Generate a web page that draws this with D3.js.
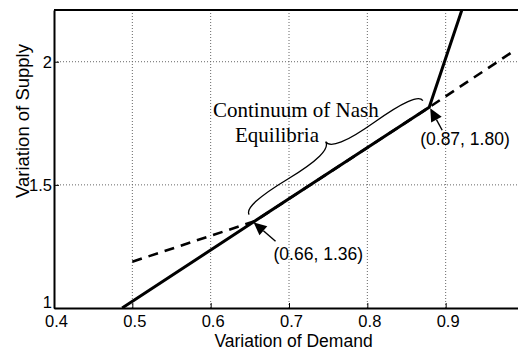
<!DOCTYPE html>
<html><head><meta charset="utf-8">
<script src="https://cdn.jsdelivr.net/npm/d3@7"></script>
<style>
html,body{margin:0;padding:0;background:#fff;overflow:hidden;}
svg{display:block;}
</style></head>
<body>
<svg id="chart" width="518" height="350"></svg>
<script>
// ---- data ----
const xTicks = [0.4, 0.5, 0.6, 0.7, 0.8, 0.9];
const yTicks = [1, 1.5, 2];
const xTickLabels = ["0.4", "0.5", "0.6", "0.7", "0.8", "0.9"];
const yTickLabels = ["1", "1.5", "2"];
const solidX = [0.487, 0.656, 0.879, 0.921];
const solidY = [1.0, 1.352, 1.815, 2.213];
const dashedX = [0.5, 0.656, 0.879, 0.99];
const dashedY = [1.188, 1.352, 1.815, 2.05];
const pointLabels = ["(0.66, 1.36)", "(0.87, 1.80)"];
const pointX = [0.656, 0.879];
const pointY = [1.352, 1.815];
const braceText = ["Continuum of Nash", "Equilibria"];
const xTitle = "Variation of Demand";
const yTitle = "Variation of Supply";

const svg = d3.select("#chart");
const x = d3.scaleLinear().domain([0.4, 1.0]).range([54, 524]);
const y = d3.scaleLinear().domain([1, 2.21]).range([308, 10]);

// grid
const grid = svg.append("g");
xTicks.slice(1).forEach(v => grid.append("line")
  .attr("x1", x(v)).attr("x2", x(v)).attr("y1", y(1)).attr("y2", y(2.21))
  .attr("stroke", "#666").attr("stroke-width", 1).attr("stroke-dasharray", "1,2"));
yTicks.slice(1).forEach(v => grid.append("line")
  .attr("x1", x(0.4)).attr("x2", 518).attr("y1", y(v)).attr("y2", y(v))
  .attr("stroke", "#666").attr("stroke-width", 1).attr("stroke-dasharray", "1,2"));

// axes
const xAxis = d3.axisBottom(x).tickValues(xTicks)
  .tickFormat((d, i) => xTickLabels[i]).tickSizeInner(-5).tickSizeOuter(0).tickPadding(7);
const gx = svg.append("g").attr("transform", `translate(0,${y(1)})`).call(xAxis);
gx.select(".domain").attr("stroke", "#000").attr("stroke-width", 2);
gx.selectAll("text").attr("font-family", "Liberation Sans, Arial, sans-serif")
  .attr("font-size", 16.5).attr("fill", "#000").attr("dx", 2);

const yAxis = d3.axisLeft(y).tickValues(yTicks)
  .tickFormat((d, i) => yTickLabels[i]).tickSizeInner(-5).tickSizeOuter(0).tickPadding(2);
const gy = svg.append("g").attr("transform", `translate(${x(0.4)},0)`).call(yAxis);
gy.select(".domain").attr("stroke", "#000").attr("stroke-width", 2);
gy.selectAll("text").attr("font-family", "Liberation Sans, Arial, sans-serif")
  .attr("font-size", 16.5).attr("fill", "#000");
gy.selectAll(".tick").filter(d => d === 1).select("text").attr("dy", "-0.02em");

// top border
svg.append("line").attr("x1", x(0.4)).attr("x2", 518).attr("y1", y(2.21)).attr("y2", y(2.21))
  .attr("stroke", "#000").attr("stroke-width", 2);

// clip
svg.append("clipPath").attr("id", "clip").append("rect")
  .attr("x", x(0.4)).attr("y", y(2.21)).attr("width", 518 - x(0.4)).attr("height", y(1) - y(2.21));

const line = d3.line().x(d => x(d[0])).y(d => y(d[1]));
const solid = solidX.map((v, i) => [v, solidY[i]]);
const dashed = dashedX.map((v, i) => [v, dashedY[i]]);

const plot = svg.append("g").attr("clip-path", "url(#clip)");
plot.append("path").datum(dashed).attr("d", line).attr("fill", "none")
  .attr("stroke", "#000").attr("stroke-width", 2.6).attr("stroke-dasharray", "10,7");
plot.append("path").datum(solid).attr("d", line).attr("fill", "none")
  .attr("stroke", "#000").attr("stroke-width", 3).attr("stroke-linejoin", "round");

// brace
function brace(x1, y1, x2, y2, w, q) {
  let dx = x1 - x2, dy = y1 - y2;
  const len = Math.sqrt(dx * dx + dy * dy); dx /= len; dy /= len;
  const qx1 = x1 + q * w * dy, qy1 = y1 - q * w * dx;
  const qx2 = (x1 - .25 * len * dx) + (1 - q) * w * dy, qy2 = (y1 - .25 * len * dy) - (1 - q) * w * dx;
  const tx1 = (x1 - .5 * len * dx) + w * dy, ty1 = (y1 - .5 * len * dy) - w * dx;
  const qx3 = x2 + q * w * dy, qy3 = y2 - q * w * dx;
  const qx4 = (x1 - .75 * len * dx) + (1 - q) * w * dy, qy4 = (y1 - .75 * len * dy) - (1 - q) * w * dx;
  return `M${x1},${y1}Q${qx1},${qy1} ${qx2},${qy2}T${tx1},${ty1}M${x2},${y2}Q${qx3},${qy3} ${qx4},${qy4}T${tx1},${ty1}`;
}
const pA = [x(pointX[1]), y(pointY[1])], pB = [x(pointX[0]), y(pointY[0])];
const ang = Math.atan2(pB[1] - pA[1], pB[0] - pA[0]);
const off = 8;
const nx = -Math.sin(ang), ny = Math.cos(ang);
const b1 = [pA[0] - 2 + nx * off, pA[1] + ny * off];
const b2 = [pB[0] - 1 + nx * off, pB[1] + ny * off];
svg.append("path").attr("d", brace(b1[0], b1[1], b2[0], b2[1], 19, 0.55))
  .attr("fill", "none").attr("stroke", "#000").attr("stroke-width", 1.3);

// brace text
const tf = "Liberation Serif, Times New Roman, serif";
svg.append("text").attr("x", 213).attr("y", 117).attr("font-family", tf).attr("font-size", 21)
  .attr("fill", "#000").text(braceText[0]);
svg.append("text").attr("x", 235).attr("y", 141.5).attr("font-family", tf).attr("font-size", 21)
  .attr("fill", "#000").text(braceText[1]);

// arrows
function arrow(tip, tail) {
  const a = Math.atan2(tip[1] - tail[1], tip[0] - tail[0]);
  const L = 13, W = 6;
  const bx = tip[0] - L * Math.cos(a), by = tip[1] - L * Math.sin(a);
  svg.append("line").attr("x1", tail[0]).attr("y1", tail[1]).attr("x2", bx).attr("y2", by)
    .attr("stroke", "#000").attr("stroke-width", 1.4);
  svg.append("path").attr("d",
    `M${tip[0]},${tip[1]}L${bx + W * Math.sin(a)},${by - W * Math.cos(a)}L${bx - W * Math.sin(a)},${by + W * Math.cos(a)}Z`)
    .attr("fill", "#000");
}
arrow([x(pointX[0]) - 1, y(pointY[0]) + 1], [x(pointX[0]) + 21, y(pointY[0]) + 20]);
arrow([x(pointX[1]) + 1, y(pointY[1]) + 1], [x(pointX[1]) + 13, y(pointY[1]) + 23]);

// point labels
const lf = "Liberation Sans, Arial, sans-serif";
svg.append("text").attr("x", x(pointX[0]) + 19).attr("y", y(pointY[0]) + 39)
  .attr("font-family", lf).attr("font-size", 17.5).attr("fill", "#000").text(pointLabels[0]);
svg.append("text").attr("x", x(pointX[1]) - 9).attr("y", y(pointY[1]) + 38)
  .attr("font-family", lf).attr("font-size", 17.5).attr("fill", "#000").text(pointLabels[1]);

// axis titles
svg.append("text").attr("x", 293.5).attr("y", 346.5).attr("text-anchor", "middle")
  .attr("font-family", lf).attr("font-size", 17.5).attr("fill", "#000").text(xTitle);
svg.append("text").attr("transform", "translate(29,121) rotate(-90)").attr("text-anchor", "middle")
  .attr("font-family", lf).attr("font-size", 18.5).attr("fill", "#000").text(yTitle);
</script>
</body></html>
